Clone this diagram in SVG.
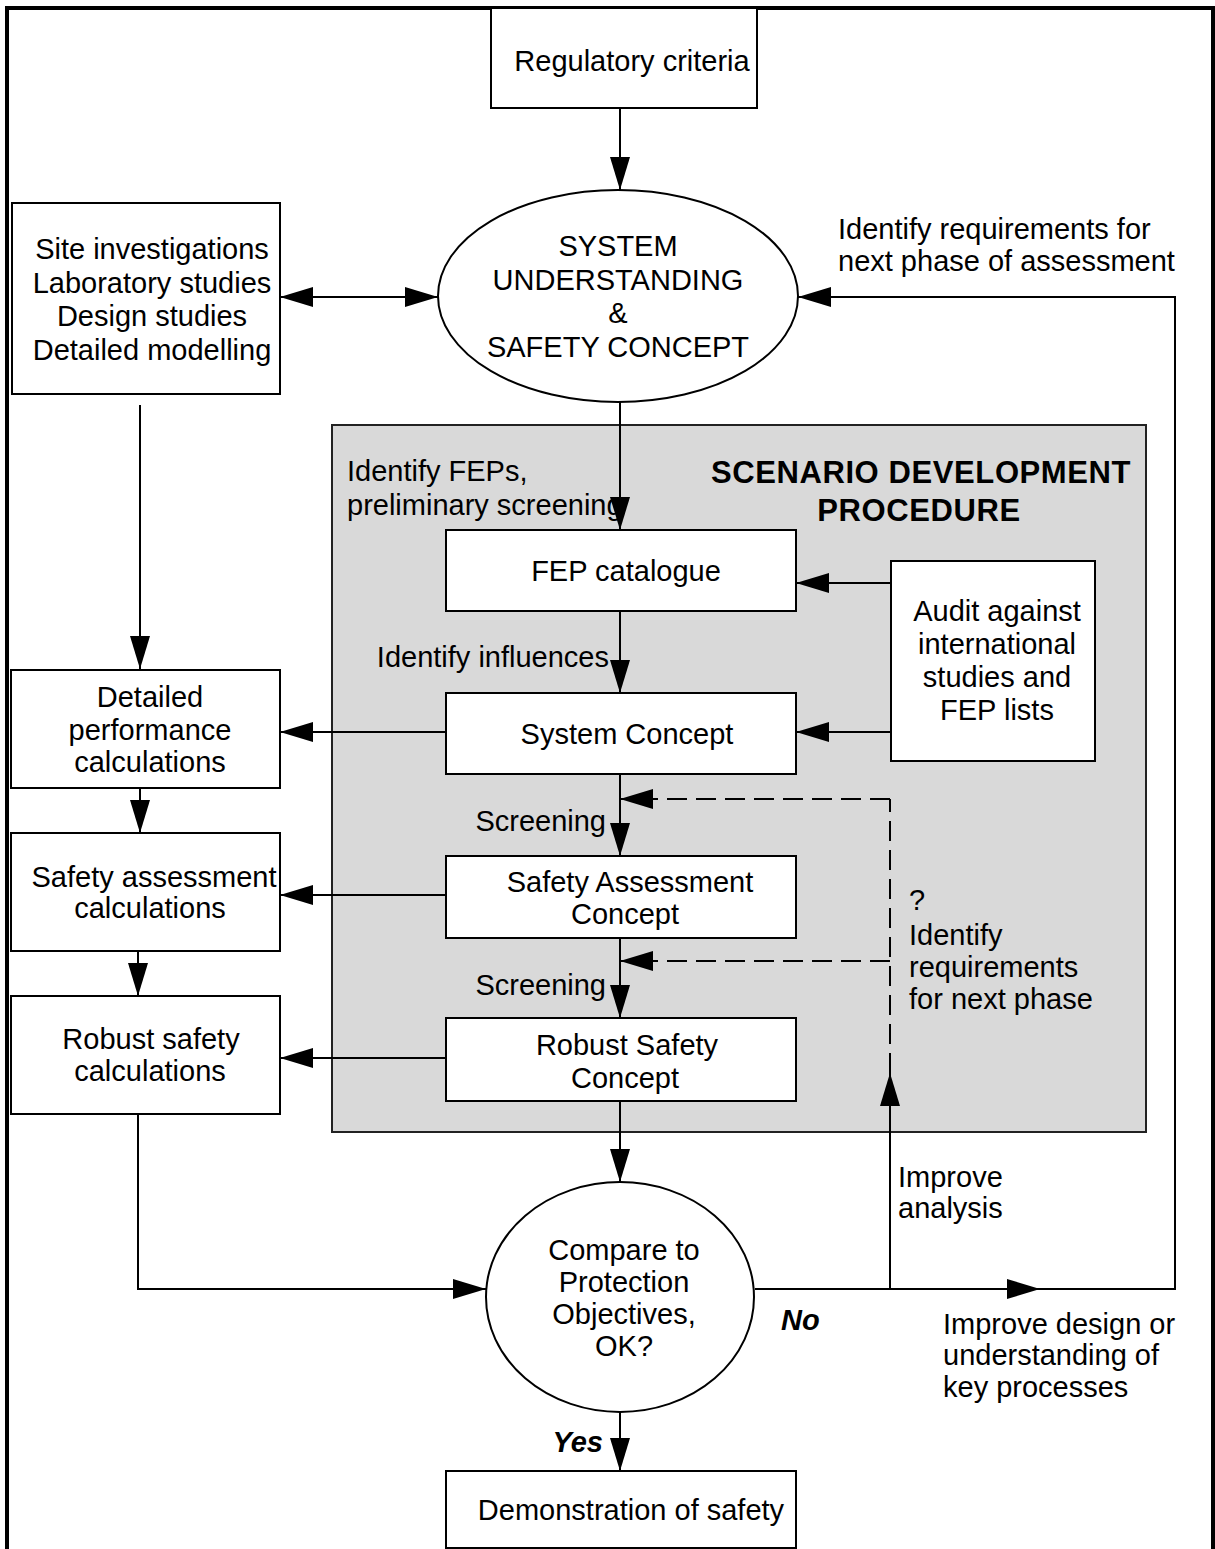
<svg xmlns="http://www.w3.org/2000/svg" width="1215" height="1549" viewBox="0 0 1215 1549">
<style>
.box{fill:#fff;stroke:#000;stroke-width:2}
.t{font-family:"Liberation Sans",Arial,sans-serif;font-size:29px;fill:#000}
.m{text-anchor:middle}
.e{text-anchor:end}
.b{font-weight:bold}
.bi{font-weight:bold;font-style:italic}
.ln{fill:none;stroke:#000;stroke-width:2}
.ah{fill:none;stroke:#000;stroke-width:2;marker-end:url(#arr)}
.dash{fill:none;stroke:#000;stroke-width:2;stroke-dasharray:20 9}
</style>
<defs>
<marker id="arr" markerUnits="userSpaceOnUse" markerWidth="34" markerHeight="22" viewBox="0 0 34 22" refX="33" refY="11" orient="auto-start-reverse">
<path d="M0,1 L33,11 L0,21 z" fill="#000"/>
</marker>
</defs>
<rect width="1215" height="1549" fill="#fff"/>
<path d="M7,1549 V8 H1213 V1549" fill="none" stroke="#000" stroke-width="4"/>
<g id="scenario-panel">
<rect x="332" y="425" width="814" height="707" fill="#d9d9d9" stroke="#222" stroke-width="2"/>
<text class="t b m" x="921" y="483" font-size="31" style="font-size:31px;letter-spacing:0.6px">SCENARIO DEVELOPMENT</text>
<text class="t b m" x="919" y="521" style="font-size:31px;letter-spacing:0.6px">PROCEDURE</text>
</g>
<g id="connectors">
<line class="ah" x1="620" y1="108" x2="620" y2="190"/>
<line class="ah" x1="620" y1="402" x2="620" y2="530"/>
<line class="ah" x1="620" y1="611" x2="620" y2="693"/>
<line class="ah" x1="620" y1="774" x2="620" y2="856"/>
<line class="ah" x1="620" y1="938" x2="620" y2="1018"/>
<line class="ah" x1="620" y1="1101" x2="620" y2="1182"/>
<line class="ah" x1="620" y1="1412" x2="620" y2="1471"/>
<line class="ah" x1="891" y1="583" x2="796" y2="583"/>
<line class="ah" x1="891" y1="732" x2="796" y2="732"/>
<line class="ah" x1="446" y1="732" x2="280" y2="732"/>
<line class="ah" x1="446" y1="895" x2="280" y2="895"/>
<line class="ah" x1="446" y1="1058" x2="280" y2="1058"/>
<line class="ah" x1="140" y1="405" x2="140" y2="669"/>
<line class="ah" x1="140" y1="788" x2="140" y2="833"/>
<line class="ah" x1="138" y1="951" x2="138" y2="996"/>
<line class="ln" x1="280" y1="297" x2="438" y2="297" style="marker-start:url(#arr);marker-end:url(#arr)"/>
<path class="ah" d="M138,1114 V1289 H486"/>
<line class="ah" x1="755" y1="1289" x2="1040" y2="1289"/>
<path class="ah" d="M1040,1289 H1175 V297 H798"/>
<line class="ah" x1="890" y1="1289" x2="890" y2="1073"/>
<path class="dash" d="M890,1073 V799"/>
<line class="dash" x1="890" y1="799" x2="620" y2="799" style="marker-end:url(#arr)"/>
<line class="dash" x1="890" y1="961" x2="620" y2="961" style="marker-end:url(#arr)"/>
</g>
<g id="labels">
<text class="t" x="838" y="239">Identify requirements for</text>
<text class="t" x="838" y="271">next phase of assessment</text>
<text class="t" x="347" y="481">Identify FEPs,</text>
<text class="t" x="347" y="515">preliminary screening</text>
<text class="t e" x="609" y="667">Identify influences</text>
<text class="t e" x="606" y="831">Screening</text>
<text class="t e" x="606" y="995">Screening</text>
<text class="t" x="909" y="910">?</text>
<text class="t" x="909" y="945">Identify</text>
<text class="t" x="909" y="977">requirements</text>
<text class="t" x="909" y="1009">for next phase</text>
<text class="t" x="898" y="1187">Improve</text>
<text class="t" x="898" y="1218">analysis</text>
<text class="t" x="943" y="1334">Improve design or</text>
<text class="t" x="943" y="1365">understanding of</text>
<text class="t" x="943" y="1397">key processes</text>
<text class="t bi" x="781" y="1330">No</text>
<text class="t bi e" x="603" y="1452">Yes</text>
</g>
<g id="regulatory-criteria">
<rect class="box" x="491" y="8" width="266" height="100"/>
<text class="t m" x="632" y="71">Regulatory criteria</text>
</g>
<g id="system-understanding">
<ellipse class="box" cx="618" cy="296" rx="180" ry="106"/>
<text class="t m" x="618" y="256">SYSTEM</text>
<text class="t m" x="618" y="290">UNDERSTANDING</text>
<text class="t m" x="618" y="323">&amp;</text>
<text class="t m" x="618" y="357">SAFETY CONCEPT</text>
</g>
<g id="site-investigations">
<rect class="box" x="12" y="203" width="268" height="191"/>
<text class="t m" x="152" y="259">Site investigations</text>
<text class="t m" x="152" y="293">Laboratory studies</text>
<text class="t m" x="152" y="326">Design studies</text>
<text class="t m" x="152" y="360">Detailed modelling</text>
</g>
<g id="fep-catalogue">
<rect class="box" x="446" y="530" width="350" height="81"/>
<text class="t m" x="626" y="581">FEP catalogue</text>
</g>
<g id="system-concept">
<rect class="box" x="446" y="693" width="350" height="81"/>
<text class="t m" x="627" y="744">System Concept</text>
</g>
<g id="audit">
<rect class="box" x="891" y="561" width="204" height="200"/>
<text class="t m" x="997" y="621">Audit against</text>
<text class="t m" x="997" y="654">international</text>
<text class="t m" x="997" y="687">studies and</text>
<text class="t m" x="997" y="720">FEP lists</text>
</g>
<g id="safety-assessment-concept">
<rect class="box" x="446" y="856" width="350" height="82"/>
<text class="t m" x="630" y="892">Safety Assessment</text>
<text class="t m" x="625" y="924">Concept</text>
</g>
<g id="robust-safety-concept">
<rect class="box" x="446" y="1018" width="350" height="83"/>
<text class="t m" x="627" y="1055">Robust Safety</text>
<text class="t m" x="625" y="1088">Concept</text>
</g>
<g id="detailed-performance">
<rect class="box" x="11" y="670" width="269" height="118"/>
<text class="t m" x="150" y="707">Detailed</text>
<text class="t m" x="150" y="740">performance</text>
<text class="t m" x="150" y="772">calculations</text>
</g>
<g id="safety-assessment-calculations">
<rect class="box" x="11" y="833" width="269" height="118"/>
<text class="t m" x="154" y="887">Safety assessment</text>
<text class="t m" x="150" y="918">calculations</text>
</g>
<g id="robust-safety-calculations">
<rect class="box" x="11" y="996" width="269" height="118"/>
<text class="t m" x="151" y="1049">Robust safety</text>
<text class="t m" x="150" y="1081">calculations</text>
</g>
<g id="compare">
<ellipse class="box" cx="620" cy="1297" rx="134" ry="115"/>
<text class="t m" x="624" y="1260">Compare to</text>
<text class="t m" x="624" y="1292">Protection</text>
<text class="t m" x="624" y="1324">Objectives,</text>
<text class="t m" x="624" y="1356">OK?</text>
</g>
<g id="demonstration">
<rect class="box" x="446" y="1471" width="350" height="77"/>
<text class="t m" x="631" y="1520">Demonstration of safety</text>
</g>
</svg>
